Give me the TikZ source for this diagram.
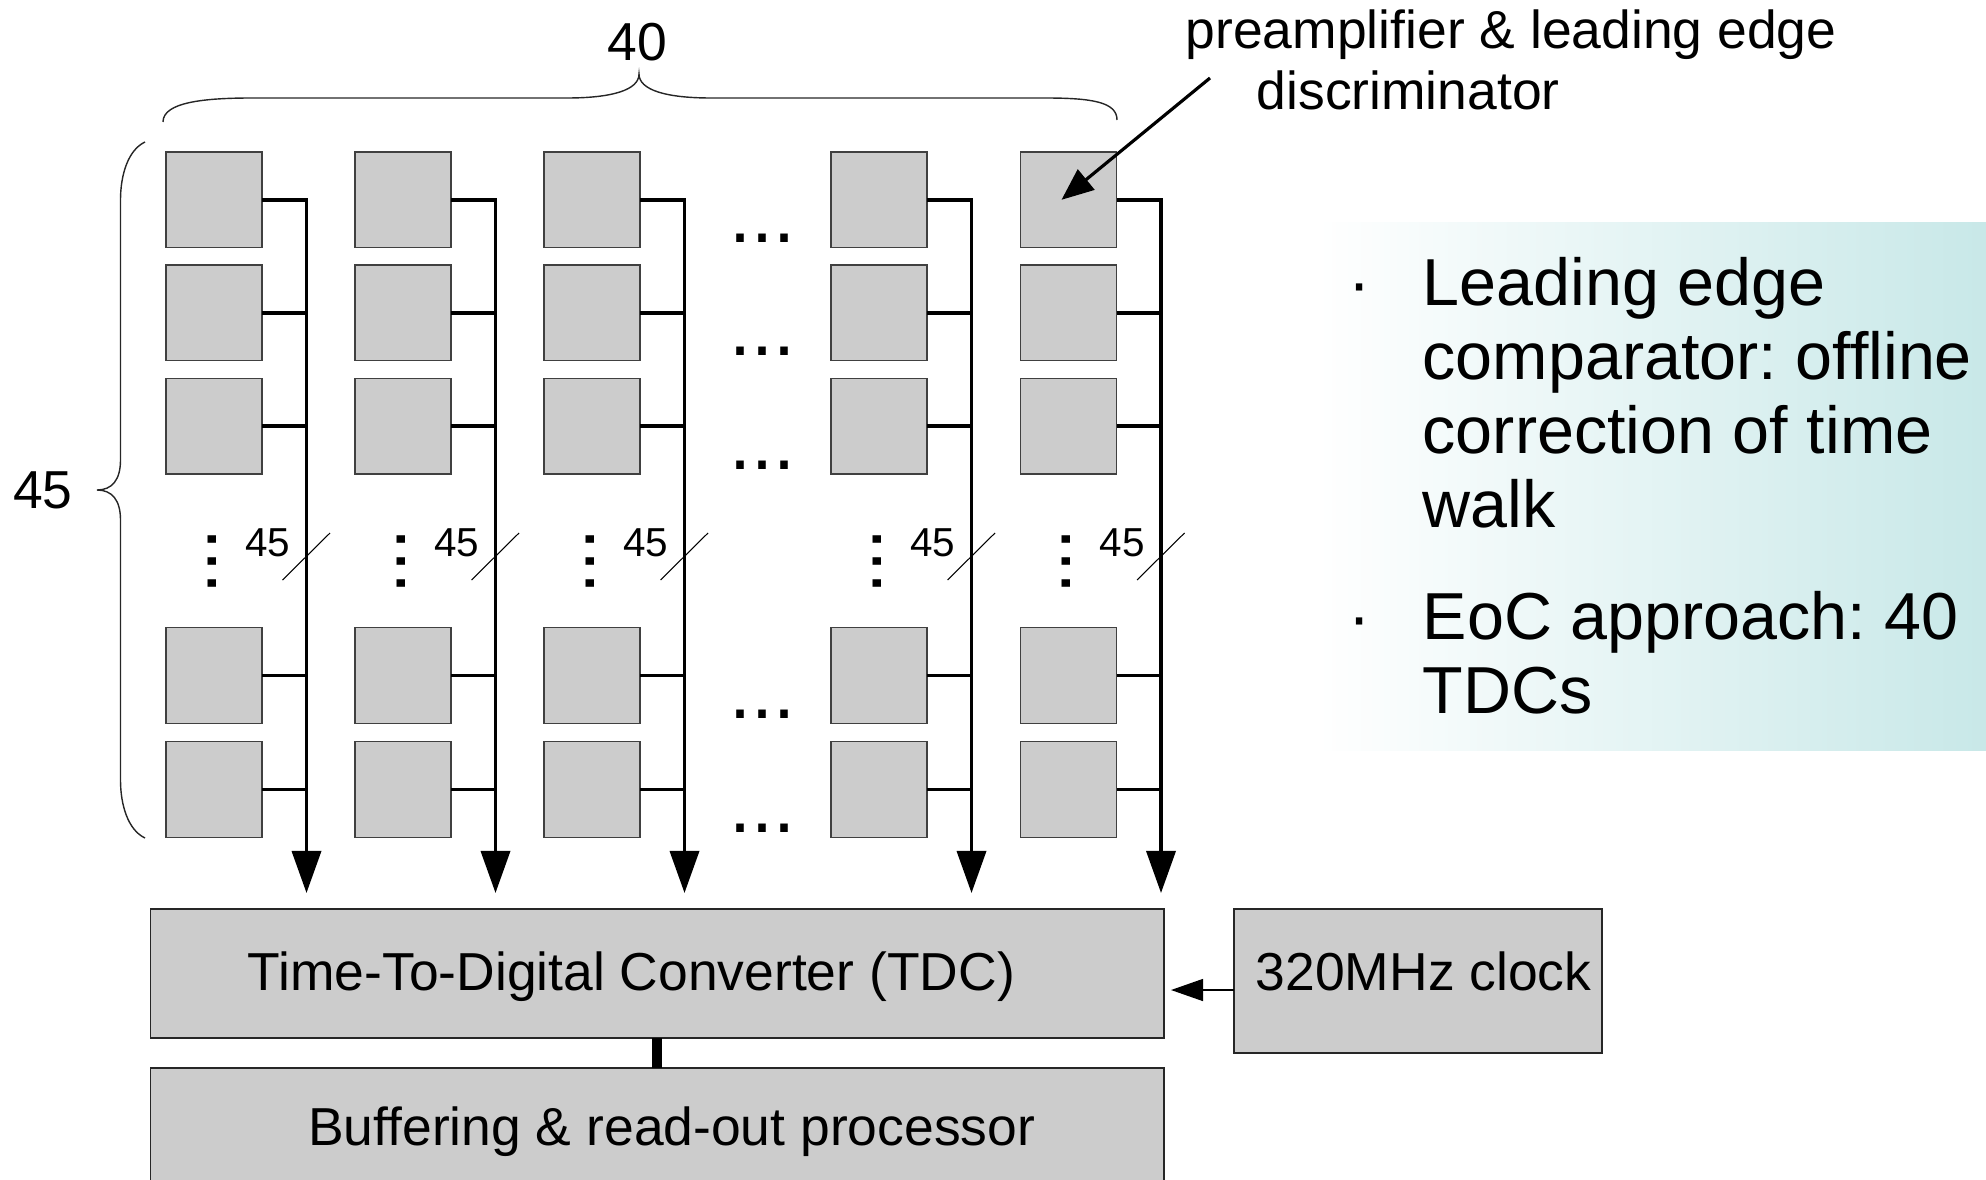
\documentclass[tikz,border=0pt]{standalone}
\usepackage{fontspec}
\setmainfont{Liberation Sans}
\usetikzlibrary{arrows.meta}
\definecolor{boxgray}{HTML}{CCCCCC}
\definecolor{panelteal}{RGB}{200,232,232}
\frenchspacing
\begin{document}
\begin{tikzpicture}[x=0.01cm,y=-0.01cm,
  cell/.style={draw=black!75, line width=0.35pt, fill=boxgray, minimum width=0.96cm, minimum height=0.956cm, inner sep=0pt, outer sep=0pt},
  bigbox/.style={draw=black!85, line width=0.4pt, fill=boxgray, inner sep=0pt, outer sep=0pt},
  bus/.style={line width=1pt},
  busarrow/.style={line width=1pt, -{Triangle[length=0.42cm,width=0.29cm]}},
  txt/.style={inner sep=0pt, font=\fontsize{15.2}{18}\selectfont},
  small/.style={inner sep=0pt, font=\fontsize{11.5}{13}\selectfont},
  dotsfont/.style={inner sep=0pt, font=\fontsize{22.5}{24}\selectfont},
  paneltxt/.style={inner sep=0pt, anchor=north west, align=left, font=\fontsize{18.9}{21}\selectfont},
  slashline/.style={line width=0.3pt},
  bracelike/.style={line width=0.4pt, black!85}
]
\useasboundingbox (0,0) rectangle (1986,1179);

% gradient panel
\shade[left color=white, right color=panelteal] (1317,222) rectangle (1986,750);

% top brace and label
\draw[bracelike] (163,122) .. controls (163,102) and (205,98) .. (252,98) -- (567,98)
  .. controls (612,98) and (639,90) .. (639,74)
  .. controls (639,90) and (666,98) .. (711,98) -- (1045,98)
  .. controls (1092,98) and (1117,102) .. (1117,120);
\node[txt, anchor=base] (forty) at (637,61) {40};

% left brace and label
\draw[bracelike] (145,142) .. controls (128,150) and (120.5,175) .. (120.5,200) -- (120.5,460)
  .. controls (120.5,480) and (112,490) .. (97,490)
  .. controls (112,490) and (120.5,500) .. (120.5,520) -- (120.5,780)
  .. controls (120.5,805) and (128,830) .. (145,838);
\node[txt, anchor=base] (fortyfive) at (43,508) {45};

% matrix of cells
\foreach \c/\x in {1/214,2/403,3/592,4/879,5/1068.5} {
  \foreach \r/\y in {1/199.8,2/312.8,3/426.1,4/675.5,5/789.5}
    \node[cell] (c\c-\r) at (\x,\y) {};
  \coordinate (tip\c) at (\x+92.5,893);
  \draw[busarrow] (c\c-1.east) -| (tip\c);
  \foreach \r in {2,...,5}
    \draw[bus] (c\c-\r.east) -- (c\c-\r.east -| tip\c);
  \node[dotsfont, rotate=90] (vd\c) at (\x-2,562) {...};
  \node[small, anchor=base] (n\c) at (\x+53.5,556) {45};
  \coordinate (sa\c) at (\x+68.5,580);
  \coordinate (sb\c) at (\x+116,533);
  \draw[slashline] (sa\c) -- (sb\c);
}
% horizontal ellipses between column 3 and 4
\foreach \r/\y in {1/199.8,2/312.8,3/426.1,4/675.5,5/789.5}
  \node[dotsfont, anchor=base] (hd\r) at (762.5,\y+43) {...};

% annotation
\node[txt, anchor=base west] (pre1) at (1185,49) {preamplifier \& leading edge};
\node[txt, anchor=base west] (pre2) at (1256,110) {discriminator};
\coordinate (pretail) at (1210,78);
\draw[line width=0.9pt, -{Triangle[length=0.32cm,width=0.26cm]}] (pretail) -- ([xshift=-0.07cm]c5-1.center);

% TDC, buffer, clock
\node[bigbox, minimum width=10.125cm, minimum height=1.29cm] (tdc) at (657.25,973.5) {};
\node[txt, anchor=base west] (tdctext) at (247,990) {Time-To-Digital Converter (TDC)};
\node[bigbox, minimum width=10.125cm, minimum height=1.5cm, anchor=north] (buf) at (657.25,1068) {};
\node[txt, anchor=base west] (buftext) at (307.5,1145) {Buffering \& read-out processor};
\node[bigbox, minimum width=3.68cm, minimum height=1.44cm] (clk) at (1418,981) {};
\node[txt, anchor=base west] (clktext) at (1255,990) {320MHz clock};
\draw[line width=2.85pt] (tdc.south) -- (buf.north);
\coordinate (clkin) at (1171,990);
\draw[line width=0.4pt, -{Triangle[length=0.32cm,width=0.22cm]}] (clk.west |- clkin) -- (clkin);

% panel text
\node[txt, anchor=base] (b1) at (1360,305) {\fontsize{18.9}{21}\selectfont ·};
\node[paneltxt] (p1) at (1422,252.3) {\rule{0pt}{15pt}Leading edge\\comparator: offline\\correction of time\\walk};
\node[txt, anchor=base] (b2) at (1360,639) {\fontsize{18.9}{21}\selectfont ·};
\node[paneltxt] (p2) at (1422,586.3) {\rule{0pt}{15pt}EoC approach: 40\\TDCs};
\end{tikzpicture}
\end{document}
